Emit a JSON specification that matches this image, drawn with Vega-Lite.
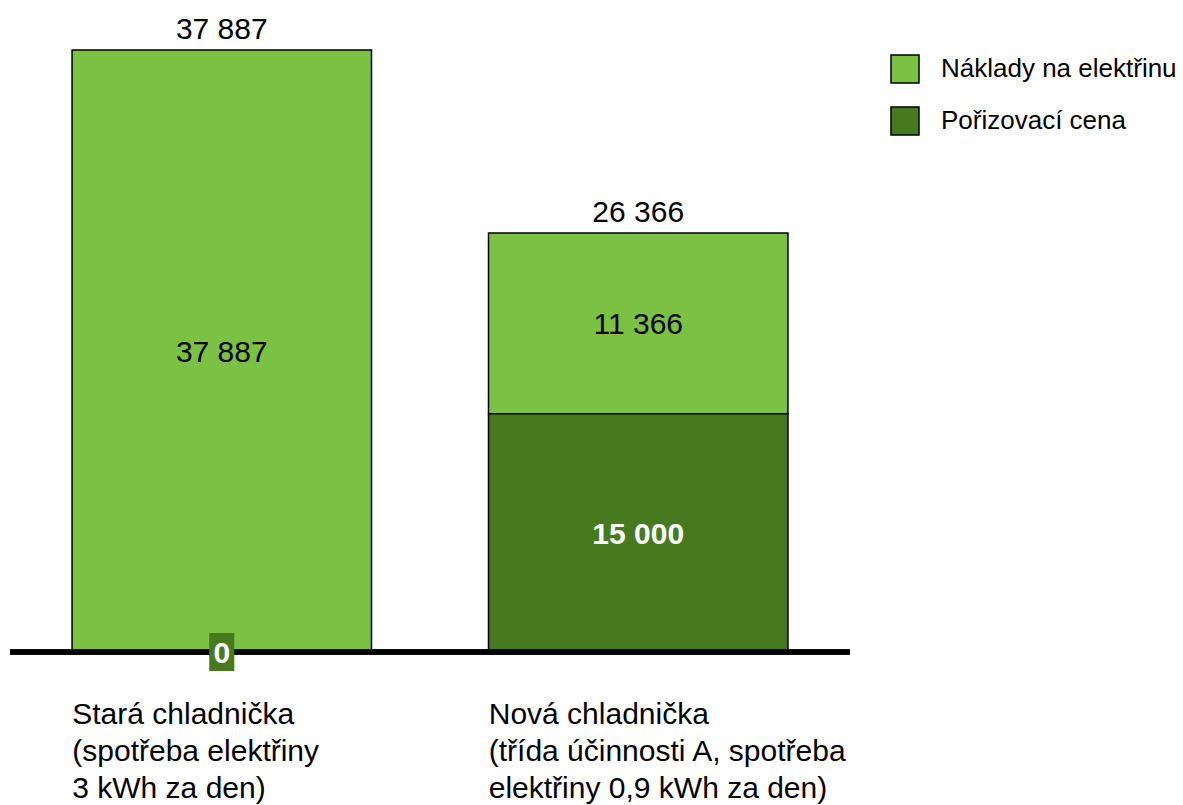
{
  "$schema": "https://vega.github.io/schema/vega-lite/v6.json",
  "width": 840,
  "height": 602,
  "padding": {"left": 10, "top": 50, "right": 333, "bottom": 153},
  "autosize": {"type": "none"},
  "background": "white",
  "config": {
    "view": {"stroke": null},
    "font": "Liberation Sans",
    "locale": {"number": {"decimal": ",", "thousands": " ", "grouping": [3], "currency": ["", " Kč"]}}
  },
  "data": {
    "values": [
      {"device": "Stará chladnička", "label": "Stará chladnička\n(spotřeba elektřiny\n3 kWh za den)", "series": "Náklady na elektřinu", "value": 37887},
      {"device": "Stará chladnička", "label": "Stará chladnička\n(spotřeba elektřiny\n3 kWh za den)", "series": "Pořizovací cena", "value": 0},
      {"device": "Nová chladnička", "label": "Nová chladnička\n(třída účinnosti A, spotřeba\nelektřiny 0,9 kWh za den)", "series": "Náklady na elektřinu", "value": 11366},
      {"device": "Nová chladnička", "label": "Nová chladnička\n(třída účinnosti A, spotřeba\nelektřiny 0,9 kWh za den)", "series": "Pořizovací cena", "value": 15000}
    ]
  },
  "transform": [
    {"stack": "value", "groupby": ["device"], "sort": [{"field": "series", "order": "descending"}], "as": ["v0", "v1"]},
    {"calculate": "(datum.v0 + datum.v1) / 2", "as": "mid"},
    {"joinaggregate": [{"op": "sum", "field": "value", "as": "total"}], "groupby": ["device"]}
  ],
  "encoding": {
    "x": {
      "field": "device", "type": "nominal",
      "sort": ["Stará chladnička", "Nová chladnička"],
      "scale": {"paddingInner": 0.281, "paddingOuter": 0.149},
      "axis": null
    }
  },
  "layer": [
    {
      "mark": {"type": "bar", "stroke": "black", "strokeWidth": 1.5},
      "encoding": {
        "y": {"field": "v0", "type": "quantitative", "scale": {"domain": [0, 37887], "nice": false, "zero": true}, "axis": null},
        "y2": {"field": "v1"},
        "fill": {
          "field": "series", "type": "nominal",
          "scale": {"domain": ["Náklady na elektřinu", "Pořizovací cena"], "range": ["#7bc143", "#477a1f"]},
          "legend": {
            "title": null, "orient": "none", "legendX": 880, "legendY": 4,
            "symbolType": "square", "symbolSize": 784, "symbolStrokeColor": "black", "symbolStrokeWidth": 1.5,
            "labelFontSize": 26, "labelFont": "Liberation Sans", "labelColor": "black", "labelOffset": 21, "labelLimit": 0,
            "rowPadding": 18, "padding": 0
          }
        }
      }
    },
    {
      "mark": {"type": "rule", "color": "black", "strokeWidth": 5},
      "encoding": {"y": {"datum": 0, "type": "quantitative"}, "x": null}
    },
    {
      "transform": [{"filter": "datum.series === 'Náklady na elektřinu'"}],
      "mark": {"type": "text", "fontSize": 30, "color": "black", "baseline": "middle", "dy": 2},
      "encoding": {"y": {"field": "mid", "type": "quantitative"}, "text": {"field": "value", "type": "quantitative", "format": ",d"}}
    },
    {
      "transform": [{"filter": "datum.series === 'Pořizovací cena' && datum.value == 0"}],
      "mark": {"type": "point", "shape": "M-0.66,-1L0.66,-1L0.66,1L-0.66,1Z", "size": 1444, "filled": true, "color": "#477a1f", "opacity": 1},
      "encoding": {"y": {"field": "mid", "type": "quantitative"}}
    },
    {
      "transform": [{"filter": "datum.series === 'Pořizovací cena'"}],
      "mark": {"type": "text", "fontSize": 30, "fontWeight": "bold", "color": "white", "baseline": "middle", "dy": 2},
      "encoding": {"y": {"field": "mid", "type": "quantitative"}, "text": {"field": "value", "type": "quantitative", "format": ",d"}}
    },
    {
      "transform": [{"filter": "datum.series === 'Pořizovací cena'"}],
      "mark": {"type": "text", "fontSize": 30, "color": "black", "baseline": "alphabetic", "dy": -11},
      "encoding": {"y": {"field": "total", "type": "quantitative"}, "text": {"field": "total", "type": "quantitative", "format": ",d"}}
    },
    {
      "transform": [{"filter": "datum.series === 'Pořizovací cena'"}],
      "mark": {"type": "text", "fontSize": 30, "color": "black", "align": "left", "baseline": "top", "dx": -149.5, "dy": 48, "lineBreak": "\n", "lineHeight": 37},
      "encoding": {"y": {"datum": 0, "type": "quantitative"}, "text": {"field": "label"}}
    }
  ],
  "resolve": {"scale": {"y": "shared"}}
}
